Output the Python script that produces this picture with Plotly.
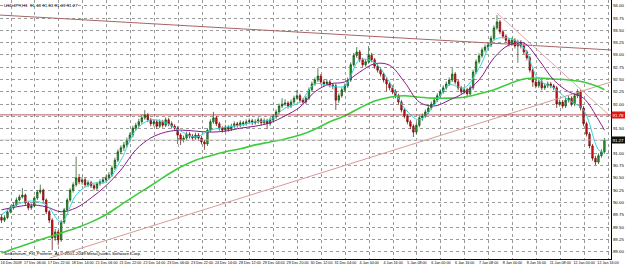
import plotly.graph_objects as go

# ---------------- data (USDJPY) ----------------
tick_labels = ["16 Dec 2009", "17 Dec 06:00", "17 Dec 22:00", "18 Dec 14:00", "21 Dec 06:00",
               "21 Dec 22:00", "22 Dec 14:00", "23 Dec 06:00", "23 Dec 22:00", "24 Dec 14:00",
               "28 Dec 12:00", "29 Dec 04:00", "29 Dec 20:00", "30 Dec 12:00", "31 Dec 04:00",
               "4 Jan 00:00", "4 Jan 16:00", "5 Jan 08:00", "6 Jan 00:00", "6 Jan 16:00",
               "7 Jan 08:00", "8 Jan 00:00", "8 Jan 16:00", "11 Jan 08:00", "12 Jan 00:00",
               "12 Jan 16:00"]

first_open = 89.70
closes = [89.64, 89.69, 89.81, 89.89, 89.95, 90.05, 90.11, 90.15, 89.99, 89.89,
          89.93, 90.09, 90.21, 90.25, 90.05, 89.81, 89.64, 89.28, 89.40, 89.24,
          89.60, 89.85, 90.05, 90.25, 90.36, 90.50, 90.42, 90.46, 90.36, 90.40,
          90.34, 90.29, 90.38, 90.42, 90.46, 90.50, 90.56, 90.70, 90.86, 91.03,
          91.11, 91.17, 91.27, 91.37, 91.51, 91.57, 91.64, 91.72, 91.78, 91.68,
          91.60, 91.64, 91.55, 91.64, 91.57, 91.68, 91.60, 91.55, 91.51, 91.37,
          91.27, 91.31, 91.39, 91.35, 91.31, 91.37, 91.31, 91.23, 91.19, 91.47,
          91.64, 91.72, 91.60, 91.51, 91.47, 91.53, 91.49, 91.55, 91.60, 91.57,
          91.62, 91.60, 91.64, 91.66, 91.62, 91.64, 91.68, 91.62, 91.66, 91.60,
          91.68, 91.74, 91.84, 91.96, 92.00, 92.02, 91.96, 92.04, 92.12, 92.17,
          92.08, 92.04, 92.12, 92.29, 92.41, 92.49, 92.57, 92.45, 92.41, 92.45,
          92.39, 92.37, 92.08, 92.17, 92.29, 92.37, 92.49, 92.80, 92.99, 93.06,
          92.90, 92.80, 92.86, 92.99, 92.90, 92.77, 92.69, 92.61, 92.49, 92.41,
          92.33, 92.25, 92.17, 92.04, 91.88, 91.76, 91.64, 91.55, 91.43, 91.57,
          91.72, 91.76, 91.84, 91.92, 92.00, 92.08, 92.17, 92.25, 92.33, 92.41,
          92.49, 92.61, 92.45, 92.33, 92.25, 92.29, 92.21, 92.33, 92.65, 92.86,
          92.98, 93.10, 93.16, 93.20, 93.34, 93.55, 93.67, 93.47, 93.38, 93.30,
          93.22, 93.30, 93.18, 93.26, 93.18, 93.06, 92.94, 92.69, 92.45, 92.37,
          92.45, 92.33, 92.37, 92.41, 92.37, 92.33, 92.00, 92.04, 91.96, 92.08,
          92.12, 92.00, 92.17, 92.25, 91.92, 91.60, 91.39, 91.15, 90.90, 90.82,
          90.95, 91.03, 91.27]
highs = [89.76, 89.74, 89.86, 89.94, 90.00, 90.10, 90.16, 90.29, 90.18, 90.02,
         89.98, 90.13, 90.25, 90.36, 90.28, 90.08, 89.85, 89.68, 89.46, 89.44,
         89.64, 89.89, 90.09, 90.29, 90.41, 90.93, 90.58, 90.52, 90.50, 90.45,
         90.44, 90.38, 90.42, 90.47, 90.51, 90.55, 90.62, 90.75, 90.91, 91.08,
         91.16, 91.23, 91.32, 91.42, 91.56, 91.62, 91.70, 91.78, 91.88, 91.82,
         91.72, 91.69, 91.68, 91.69, 91.68, 91.73, 91.72, 91.65, 91.59, 91.55,
         91.41, 91.36, 91.44, 91.43, 91.39, 91.42, 91.41, 91.35, 91.27, 91.51,
         91.69, 91.84, 91.76, 91.64, 91.55, 91.58, 91.57, 91.60, 91.65, 91.64,
         91.67, 91.66, 91.69, 91.71, 91.70, 91.69, 91.73, 91.72, 91.71, 91.70,
         91.73, 91.79, 91.89, 92.01, 92.12, 92.10, 92.06, 92.09, 92.17, 92.29,
         92.21, 92.12, 92.17, 92.34, 92.46, 92.54, 92.73, 92.61, 92.50, 92.50,
         92.49, 92.43, 92.41, 92.22, 92.34, 92.42, 92.54, 92.85, 93.04, 93.16,
         93.10, 92.94, 92.91, 93.18, 93.04, 92.94, 92.81, 92.74, 92.65, 92.54,
         92.45, 92.38, 92.30, 92.21, 92.08, 91.92, 91.80, 91.68, 91.59, 91.62,
         91.77, 91.81, 91.89, 91.97, 92.05, 92.13, 92.22, 92.30, 92.38, 92.46,
         92.54, 92.73, 92.65, 92.49, 92.37, 92.34, 92.33, 92.38, 92.70, 92.91,
         93.03, 93.15, 93.21, 93.25, 93.39, 93.60, 93.81, 93.71, 93.51, 93.42,
         93.34, 93.35, 93.34, 93.31, 93.30, 93.22, 93.10, 92.98, 92.73, 92.50,
         92.50, 92.49, 92.42, 92.46, 92.45, 92.41, 92.37, 92.09, 92.08, 92.13,
         92.17, 92.16, 92.22, 92.30, 92.29, 91.96, 91.64, 91.43, 91.19, 90.95,
         91.00, 91.08, 91.31]
lows = [89.58, 89.60, 89.66, 89.78, 89.85, 89.92, 90.02, 90.08, 89.95, 89.84,
        89.85, 89.90, 90.05, 90.17, 90.01, 89.76, 89.58, 89.03, 89.22, 89.13,
        89.20, 89.56, 89.81, 90.01, 90.20, 90.32, 90.37, 90.36, 90.31, 90.31,
        90.29, 90.24, 90.25, 90.34, 90.38, 90.42, 90.46, 90.52, 90.66, 90.82,
        90.98, 91.05, 91.12, 91.22, 91.32, 91.46, 91.52, 91.60, 91.68, 91.63,
        91.55, 91.55, 91.50, 91.51, 91.52, 91.53, 91.55, 91.50, 91.46, 91.19,
        91.17, 91.22, 91.27, 91.30, 91.26, 91.27, 91.26, 91.18, 91.07, 91.15,
        91.43, 91.60, 91.55, 91.46, 91.42, 91.43, 91.44, 91.45, 91.51, 91.52,
        91.53, 91.55, 91.56, 91.59, 91.57, 91.58, 91.60, 91.57, 91.58, 91.49,
        91.56, 91.64, 91.70, 91.80, 91.92, 91.96, 91.91, 91.92, 92.00, 92.08,
        92.03, 91.99, 92.00, 92.08, 92.25, 92.37, 92.45, 92.40, 92.36, 92.37,
        92.34, 92.30, 91.88, 92.02, 92.13, 92.25, 92.33, 92.45, 92.76, 92.94,
        92.85, 92.75, 92.76, 92.82, 92.85, 92.72, 92.64, 92.56, 92.44, 92.26,
        92.28, 92.20, 92.12, 91.99, 91.83, 91.71, 91.59, 91.49, 91.33, 91.39,
        91.53, 91.66, 91.72, 91.80, 91.88, 91.96, 92.04, 92.13, 92.21, 92.29,
        92.37, 92.45, 92.40, 92.28, 92.20, 92.20, 92.16, 92.17, 92.29, 92.61,
        92.82, 92.94, 93.05, 93.11, 93.16, 93.30, 93.51, 93.42, 93.33, 93.25,
        93.17, 93.18, 93.13, 92.84, 93.13, 93.01, 92.89, 92.64, 92.35, 92.32,
        92.33, 92.28, 92.29, 92.33, 92.32, 92.28, 91.92, 91.95, 91.91, 91.92,
        92.03, 91.95, 91.96, 92.12, 91.87, 91.55, 91.34, 91.10, 90.85, 90.76,
        90.78, 90.91, 90.99]

ma_bars = list(range(0, 201, 5)) + [202]
ma_fast = [89.75, 89.95, 90.03, 89.95, 89.60, 90.15, 90.38, 90.42, 90.86, 91.47,
           91.68, 91.62, 91.45, 91.33, 91.47, 91.53, 91.57, 91.64, 91.68, 91.92,
           92.04, 92.41, 92.37, 92.37, 92.90, 92.84, 92.45, 91.92, 91.68, 91.98,
           92.39, 92.33, 92.73, 93.30, 93.34, 93.14, 92.49, 92.33, 92.08, 91.88,
           91.07, 91.01]
ma_mid = [89.85, 89.91, 89.95, 89.91, 89.81, 89.89, 90.09, 90.34, 90.66, 91.07,
          91.31, 91.43, 91.47, 91.45, 91.43, 91.45, 91.51, 91.55, 91.62, 91.76,
          91.94, 92.25, 92.41, 92.45, 92.65, 92.82, 92.79, 92.45, 92.04, 91.96,
          92.08, 92.23, 92.49, 92.94, 93.20, 93.24, 92.90, 92.49, 92.25, 92.12,
          91.68, 91.47]
ma_slow = [88.97, 89.08, 89.18, 89.28, 89.38, 89.48, 89.60, 89.75, 89.95, 90.15,
           90.34, 90.54, 90.72, 90.86, 90.95, 91.03, 91.09, 91.17, 91.23, 91.29,
           91.37, 91.49, 91.64, 91.76, 91.92, 92.06, 92.14, 92.17, 92.14, 92.12,
           92.12, 92.14, 92.21, 92.29, 92.41, 92.51, 92.53, 92.51, 92.49, 92.45,
           92.35, 92.29]

# trend lines (bar index, price)
tl_top_x, tl_top_y = [-0.5, 204.2], [93.81, 93.10]
tl_up_x, tl_up_y = [16.2, 204.2], [88.87, 92.45]
tl_down_x, tl_down_y = [166.0, 204.2], [93.85, 91.74]
alert_level = 91.78
bid_price = 91.27
title_text = "USDJPY,H1  91.18 91.33 91.09 91.27"
footer_text = "Sinkeforum_FX_Profeter_A, © 2001-2009 MetaQuotes Software Corp."

# ---------------- figure ----------------
n = len(closes)
bars = list(range(n))
opens = [first_open] + closes[:-1]
label_font = dict(family="Liberation Sans", size=4.4, color="black")
xlabel_font = dict(family="Liberation Sans", size=3.7, color="black")

fig = go.Figure()
fig.add_trace(go.Candlestick(
    x=bars, open=opens, high=highs, low=lows, close=closes,
    increasing=dict(line=dict(color="#0b4d0b", width=0.7), fillcolor="#2fa52f"),
    decreasing=dict(line=dict(color="#6e0000", width=0.7), fillcolor="#e81c1c"),
    whiskerwidth=0, hoverinfo="skip"))

for xs, ys, col, w in [(tl_top_x, tl_top_y, "#a86464", 1.0),
                       (tl_up_x, tl_up_y, "#d89a9a", 1.0),
                       (tl_down_x, tl_down_y, "#e0a8a8", 1.0)]:
    fig.add_trace(go.Scatter(x=xs, y=ys, mode="lines", line=dict(color=col, width=w),
                             hoverinfo="skip", cliponaxis=True))

fig.add_trace(go.Scatter(x=ma_bars, y=ma_slow, mode="lines",
                         line=dict(color="#3ccc3c", width=1.6, shape="spline"), hoverinfo="skip"))
fig.add_trace(go.Scatter(x=ma_bars, y=ma_mid, mode="lines",
                         line=dict(color="#8a1a8a", width=1.0, shape="spline"), hoverinfo="skip"))
fig.add_trace(go.Scatter(x=ma_bars, y=ma_fast, mode="lines",
                         line=dict(color="#30d8e0", width=1.0, shape="spline"), hoverinfo="skip"))

fig.add_hline(y=alert_level, line=dict(color="#a83030", width=0.8))
fig.add_hline(y=bid_price, line=dict(color="#c0c0c0", width=0.8))

tickvals = [3.2 + 8 * k for k in range(len(tick_labels))]

fig.update_layout(
    width=625, height=274, margin=dict(l=0, r=14, t=0, b=15),
    paper_bgcolor="white", plot_bgcolor="white", showlegend=False,
    xaxis=dict(range=[-0.5, 204.2], tickvals=tickvals, ticktext=tick_labels, tickangle=0,
               showgrid=True, gridcolor="#9a9a9a", griddash="dot", gridwidth=1,
               tickfont=xlabel_font, ticks="", showline=True, linecolor="black",
               linewidth=1, mirror=True, zeroline=False, rangeslider=dict(visible=False),
               fixedrange=True),
    yaxis=dict(range=[88.85, 94.116], side="right", dtick=0.25, tick0=88.75,
               tickformat=".2f", showgrid=True, gridcolor="#9a9a9a", griddash="dot",
               gridwidth=1, tickfont=label_font, ticks="", showline=True,
               linecolor="black", linewidth=1, mirror=True, zeroline=False,
               fixedrange=True),
)

fig.add_annotation(x=0.003, y=0.998, xref="paper", yref="paper", xanchor="left", yanchor="top",
                   text=title_text, showarrow=False, font=label_font)
fig.add_annotation(x=0.003, y=0.004, xref="paper", yref="paper", xanchor="left", yanchor="bottom",
                   text=footer_text, showarrow=False, font=label_font)
fig.add_annotation(x=1, y=alert_level, xref="paper", yref="y", xanchor="left", yanchor="middle",
                   text=f"{alert_level:.2f}", showarrow=False, bgcolor="#e01818",
                   font=dict(family="Liberation Sans", size=4.4, color="white"), borderpad=0.5)
fig.add_annotation(x=1, y=bid_price, xref="paper", yref="y", xanchor="left", yanchor="middle",
                   text=f"{bid_price:.2f}", showarrow=False, bgcolor="#101010",
                   font=dict(family="Liberation Sans", size=4.4, color="white"), borderpad=0.5)

fig.write_html("out.html")
